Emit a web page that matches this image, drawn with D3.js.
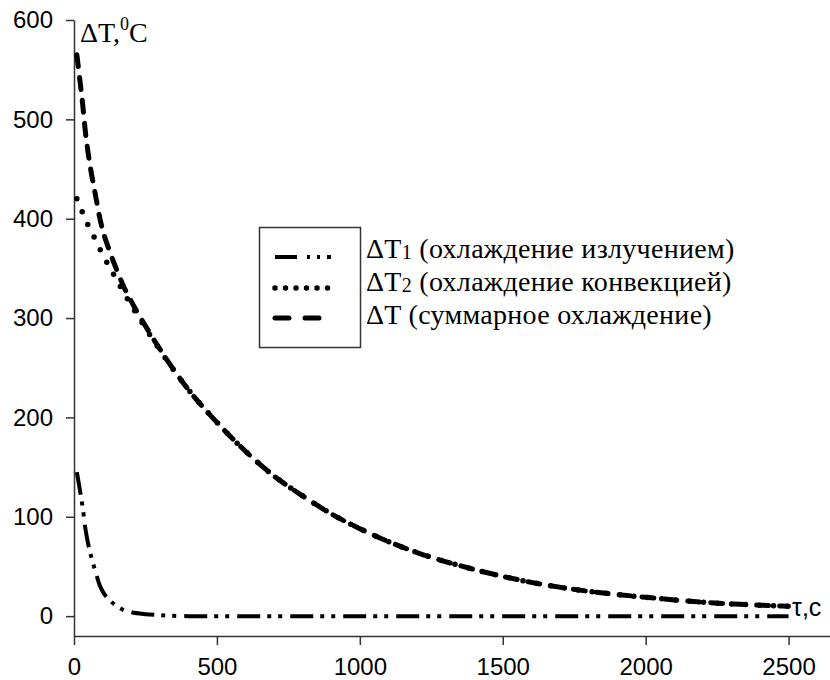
<!DOCTYPE html>
<html>
<head>
<meta charset="utf-8">
<script src="https://cdnjs.cloudflare.com/ajax/libs/d3/7.8.5/d3.min.js"></script>
<style>
  body { margin: 0; background: #fff; }
  .axis text { font-family: "Liberation Sans", Arial, sans-serif; font-size: 24px; fill: #000; }
  .axis path, .axis line { stroke: #333; stroke-width: 1.5; }
  .serif { font-family: "Liberation Serif", "Times New Roman", serif; fill: #000; }
</style>
</head>
<body>
<div id="chart"></div>
<script>
// время, с
var times = [10, 20, 30, 40, 50, 60, 75, 90, 100, 125, 150, 175, 200, 250, 300, 400, 500,
  600, 700, 800, 900, 1000, 1200, 1400, 1600, 1800, 2000, 2200, 2400, 2500];

// ΔT1 - охлаждение излучением
var dT1 = [145, 128, 110, 88, 72, 60, 45, 31, 25, 16, 10, 6, 4, 2, 1, 0, 0,
  0, 0, 0, 0, 0, 0, 0, 0, 0, 0, 0, 0, 0];

// ΔT2 - охлаждение конвекцией
var dT2 = [420, 413, 406, 399, 393, 387, 379, 370, 364, 351, 338, 325, 313, 290, 268, 228, 195,
  166, 141, 121, 103, 88, 64, 47, 34, 25, 19, 14, 11, 10];

// ΔT - суммарное охлаждение
var dT = [565, 541, 516, 487, 465, 447, 424, 401, 389, 367, 348, 331, 317, 292, 269, 228, 195,
  166, 141, 121, 103, 88, 64, 47, 34, 25, 19, 14, 11, 10];

var xTicks = [0, 500, 1000, 1500, 2000, 2500];
var yTicks = [0, 100, 200, 300, 400, 500, 600];

var legendNames = ['ΔT1', 'ΔT2', 'ΔT'];
var legendDescr = [' (охлаждение излучением)', ' (охлаждение конвекцией)', ' (суммарное охлаждение)'];

var styles = [
  {width: 4, dash: '23,7,4,7,4,8', cap: 'butt', legendDash: '22,10,3,7,3,7'},
  {width: 5.5, dash: '0,14', cap: 'round', legendDash: '0,10.5'},
  {width: 5, dash: '12,11', cap: 'round', legendDash: '14,16'}
];

function drawChart() {
  var W = 830, H = 680;
  var svg = d3.select('#chart').append('svg')
    .attr('width', W)
    .attr('height', H);

  var x = d3.scaleLinear().domain([0, 2645]).range([74, 830]);
  var y = d3.scaleLinear().domain([-20, 600]).range([636, 20]);

  // оси
  svg.append('g')
    .attr('class', 'axis')
    .attr('transform', 'translate(0,' + y(-20) + ')')
    .call(d3.axisBottom(x).tickValues(xTicks).tickSize(9).tickSizeOuter(0).tickPadding(13)
      .tickFormat(d3.format('d')));

  svg.append('g')
    .attr('class', 'axis')
    .attr('transform', 'translate(' + x(0) + ',0)')
    .call(d3.axisLeft(y).tickValues(yTicks).tickSize(8).tickSizeOuter(0).tickPadding(13)
      .tickFormat(d3.format('d')));

  // сначала конвекция, потом излучение и сумма
  [[dT2, 1], [dT1, 0], [dT, 2]].forEach(function (s) {
    var st = styles[s[1]];
    var line = d3.line()
      .x(function (d, i) { return x(times[i]); })
      .y(function (d) { return y(d); })
      .curve(d3.curveMonotoneX);

    svg.append('path')
      .datum(s[0])
      .attr('d', line)
      .attr('fill', 'none')
      .attr('stroke', '#000')
      .attr('stroke-width', st.width)
      .attr('stroke-dasharray', st.dash)
      .attr('stroke-linecap', st.cap);
  });

  // подписи осей
  var yl = svg.append('text').attr('class', 'serif')
    .attr('x', 80).attr('y', 42).style('font-size', '28px');
  yl.append('tspan').text('ΔT,');
  yl.append('tspan').attr('dy', -12).style('font-size', '18px').text('0');
  yl.append('tspan').attr('dy', 12).text('C');

  svg.append('text')
    .attr('x', 792).attr('y', 616)
    .style('font-family', '"Liberation Sans", Arial, sans-serif')
    .style('font-size', '25px')
    .text('τ,c');

  // легенда
  svg.append('rect')
    .attr('x', 259.5).attr('y', 227.5)
    .attr('width', 101).attr('height', 120)
    .attr('fill', '#fff')
    .attr('stroke', '#333')
    .attr('stroke-width', 1.5);

  var legendY = [257, 288, 318];
  var legendEnd = [331, 331, 322];
  var textY = [258, 291, 324];

  legendNames.forEach(function (name, i) {
    svg.append('line')
      .attr('x1', 275).attr('x2', legendEnd[i])
      .attr('y1', legendY[i]).attr('y2', legendY[i])
      .attr('stroke', '#000')
      .attr('stroke-width', styles[i].width)
      .attr('stroke-dasharray', styles[i].legendDash)
      .attr('stroke-linecap', styles[i].cap);

    var t = svg.append('text').attr('class', 'serif')
      .attr('x', 366).attr('y', textY[i])
      .style('font-size', '28px')
      .style('letter-spacing', '0.3px');

    if (name.length > 2) {
      t.append('tspan').text(name.slice(0, 2));
      t.append('tspan').attr('dy', 1).style('font-size', '20px').text(name.slice(2));
      t.append('tspan').attr('dy', -1).text(legendDescr[i]);
    } else {
      t.append('tspan').text(name + legendDescr[i]);
    }
  });
}

drawChart();
</script>
</body>
</html>
